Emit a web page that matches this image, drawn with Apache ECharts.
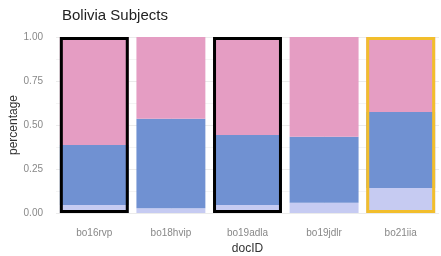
<!DOCTYPE html>
<html>
<head>
<meta charset="utf-8">
<script src="https://cdn.jsdelivr.net/npm/echarts@6/dist/echarts.min.js"></script>
<style>
  html, body { margin: 0; padding: 0; background: #fff; }
  #chart { width: 441px; height: 256px; }
</style>
</head>
<body>
<div id="chart"></div>
<script>
// categories and stacked proportions (bottom -> top)
var docs = ['bo16rvp', 'bo18hvip', 'bo19adla', 'bo19jdlr', 'bo21iia'];
var lowPart = [0.045, 0.027, 0.045, 0.058, 0.142];
var midPart = [0.341, 0.508, 0.398, 0.375, 0.432];
var topPart = [0.614, 0.465, 0.557, 0.567, 0.426];
// outlined bars: full height box, '' = none
var outlineCol = ['#000000', '', '#000000', '', '#F2BE2C'];

var chart = echarts.init(document.getElementById('chart'));

var outlineData = docs.map(function (d, i) {
    if (!outlineCol[i]) return { value: '-' };
    return {
        value: lowPart[i] + midPart[i] + topPart[i],
        itemStyle: { color: 'rgba(0,0,0,0)', borderColor: outlineCol[i], borderWidth: 3 }
    };
});

var option = {
    animation: false,
    textStyle: { fontFamily: 'Liberation Sans, Arial, sans-serif' },
    title: {
        text: 'Bolivia Subjects',
        left: 57,
        top: 3,
        textStyle: { fontSize: 15, fontWeight: 'normal', color: '#222' }
    },
    grid: { left: 56, right: 2, top: 37, bottom: 43, outerBoundsMode: 'none', containLabel: false },
    xAxis: {
        type: 'category',
        data: docs,
        name: 'docID',
        nameLocation: 'middle',
        nameGap: 29,
        nameTextStyle: { fontSize: 12, color: '#333' },
        axisLine: { show: false },
        axisTick: { show: false },
        axisLabel: { fontSize: 10, color: '#888', margin: 15 },
        splitLine: { show: true, alignWithLabel: true, lineStyle: { color: '#EEEEEE' } }
    },
    yAxis: {
        type: 'value',
        min: 0,
        max: 1,
        interval: 0.25,
        name: 'percentage',
        nameLocation: 'middle',
        nameGap: 36,
        nameMoveOverlap: false,
        nameTextStyle: { fontSize: 12, color: '#333' },
        axisLine: { show: false },
        axisTick: { show: false },
        axisLabel: {
            fontSize: 10, color: '#888', margin: 13,
            formatter: function (v) { return v.toFixed(2); }
        },
        splitLine: { lineStyle: { color: '#EBEBEB' } },
        minorTick: { show: false, splitNumber: 2 },
        minorSplitLine: { show: true, lineStyle: { color: '#F4F4F4' } }
    },
    series: [
        { name: 'low', type: 'bar', stack: 's', data: lowPart, barWidth: '90%',
          itemStyle: { color: '#C6CBF2' } },
        { name: 'mid', type: 'bar', stack: 's', data: midPart,
          itemStyle: { color: '#7091D2' } },
        { name: 'top', type: 'bar', stack: 's', data: topPart,
          itemStyle: { color: '#E59DC3' } },
        { name: 'outline', type: 'bar', data: outlineData, barWidth: '90%', barGap: '-100%', z: 5 }
    ]
};

chart.setOption(option);
</script>
</body>
</html>
